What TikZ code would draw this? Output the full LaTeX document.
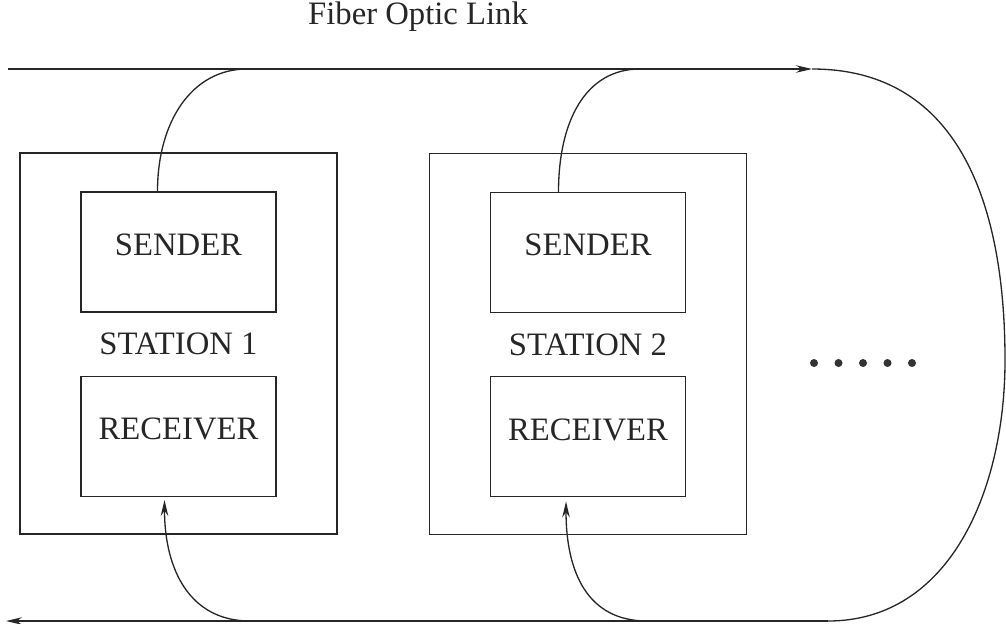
\documentclass[tikz,border=0pt]{standalone}
\usepackage{fontspec}
\setmainfont{Liberation Serif}
\usetikzlibrary{positioning,calc,arrows.meta}

\tikzstyle{station_box} = [rectangle, draw=black!85, line width=0.75pt, minimum width=6.34cm, minimum height=7.62cm]
\tikzstyle{unit_box} = [rectangle, draw=black!85, line width=0.75pt, text centered, minimum width=3.9cm, minimum height=2.4cm, text height=0.42cm, text depth=0.29cm]
\tikzstyle{fiber} = [draw=black!85, line width=0.75pt]
\tikzstyle{arrow} = [fiber, -{Stealth[length=3.2mm,width=1.5mm]}]
\tikzstyle{dot} = [circle, fill=black!80, inner sep=0pt, minimum size=0.16cm]

\begin{document}
\begin{tikzpicture}[x=0.02cm, y=-0.02cm, font=\fontsize{18.6}{22}\selectfont, text=black!85]
    \useasboundingbox (0,0) rectangle (1006,623);

    \node (title) [anchor=base] at (418,24) {Fiber Optic Link};

    % stations
    \node (st1) [station_box] at (178.5,343.5) {};
    \node (st2) [station_box] at (588,344) {};

    \node (snd1) [unit_box, below=0.78cm of st1.north] {SENDER};
    \node (rcv1) [unit_box, below=1.26cm of snd1] {RECEIVER};
    \node (lbl1) at ($(snd1.south)!0.5!(rcv1.north)$) {STATION 1};

    \node (snd2) [unit_box, below=0.78cm of st2.north] {SENDER};
    \node (rcv2) [unit_box, below=1.26cm of snd2] {RECEIVER};
    \node (lbl2) at ($(snd2.south)!0.5!(rcv2.north)$) {STATION 2};

    \foreach \i in {0,...,4}
        \node (dot\i) [dot] at (814+24.5*\i,363) {};

    % fiber loop
    \coordinate (tl) at (8,69);
    \coordinate (tr) at (812,69);
    \coordinate (br) at (828,621);
    \coordinate (bl) at (6,621);
    \coordinate (tap1) at (247,69);
    \coordinate (tap2) at (640,69);
    \coordinate (tap3) at (250,621);
    \coordinate (tap4) at (647,621);

    \draw [arrow] (tl) -- (tr);
    \draw [fiber] (tr) .. controls (962,69) and (1005,210) .. (1005,360)
                       .. controls (1005,490) and (950,621) .. (br);
    \draw [arrow] (br) -- (bl);

    % taps
    \draw [fiber] ([xshift=-0.42cm]snd1.north) .. controls +(0,1.4cm) and +(-1.1cm,0) .. (tap1);
    \draw [fiber] ([xshift=-0.59cm]snd2.north) .. controls +(0,1.4cm) and +(-1.1cm,0) .. (tap2);
    \draw [arrow] (tap3) .. controls +(-1.2cm,0) and +(0,-1.4cm) .. ([xshift=-0.28cm, yshift=-0.06cm]rcv1.south);
    \draw [arrow] (tap4) .. controls +(-1.2cm,0) and +(0,-1.4cm) .. ([xshift=-0.44cm, yshift=-0.08cm]rcv2.south);
\end{tikzpicture}
\end{document}
